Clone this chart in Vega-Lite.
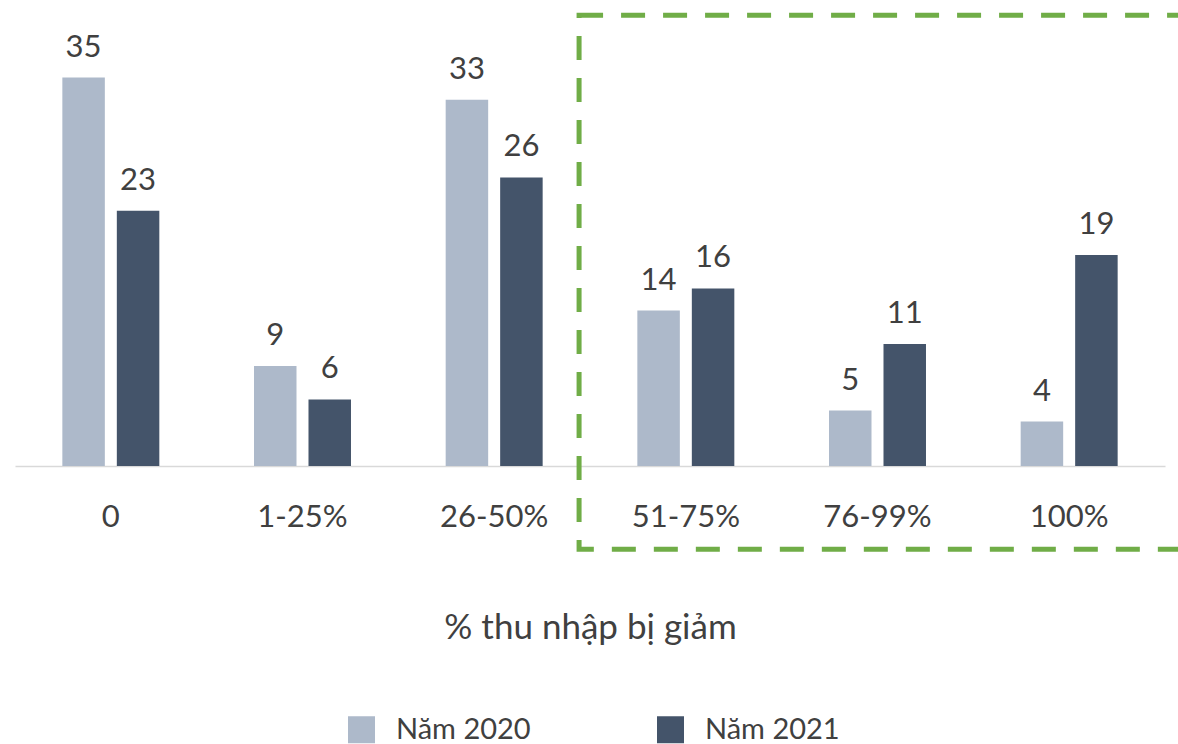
{
  "$schema": "https://vega.github.io/schema/vega-lite/v6.json",
  "width": 1150,
  "height": 444,
  "autosize": {"type": "none"},
  "padding": {"left": 15, "top": 22, "right": 13, "bottom": 278},
  "background": "white",
  "config": {"view": {"stroke": null}, "font": "Lato"},
  "data": {
    "values": [
      {"cat": "0", "year": "Năm 2020", "value": 35},
      {"cat": "0", "year": "Năm 2021", "value": 23},
      {"cat": "1-25%", "year": "Năm 2020", "value": 9},
      {"cat": "1-25%", "year": "Năm 2021", "value": 6},
      {"cat": "26-50%", "year": "Năm 2020", "value": 33},
      {"cat": "26-50%", "year": "Năm 2021", "value": 26},
      {"cat": "51-75%", "year": "Năm 2020", "value": 14},
      {"cat": "51-75%", "year": "Năm 2021", "value": 16},
      {"cat": "76-99%", "year": "Năm 2020", "value": 5},
      {"cat": "76-99%", "year": "Năm 2021", "value": 11},
      {"cat": "100%", "year": "Năm 2020", "value": 4},
      {"cat": "100%", "year": "Năm 2021", "value": 19}
    ]
  },
  "resolve": {"scale": {"x": "independent"}, "axis": {"x": "independent"}},
  "layer": [
    {
      "encoding": {
        "x": {
          "field": "cat",
          "type": "nominal",
          "sort": ["0", "1-25%", "26-50%", "51-75%", "76-99%", "100%"],
          "scale": {"paddingInner": 0.494, "paddingOuter": 0.247},
          "axis": {
            "title": "% thu nhập bị giảm",
            "domainColor": "#D9D9D9",
            "domainWidth": 1.5,
            "ticks": false,
            "grid": false,
            "labelAngle": 0,
            "labelFont": "Lato",
            "labelFontSize": 31,
            "labelColor": "#404040",
            "labelBaseline": "alphabetic",
            "labelPadding": 60,
            "titleFont": "Lato",
            "titleFontSize": 35,
            "titleFontWeight": "normal",
            "titleColor": "#404040",
            "titleBaseline": "alphabetic",
            "titleY": 172
          }
        },
        "xOffset": {"field": "year", "type": "nominal", "scale": {"paddingInner": 0.22, "paddingOuter": 0}},
        "y": {"field": "value", "type": "quantitative", "scale": {"domain": [0, 40], "nice": false}, "axis": null}
      },
      "layer": [
        {
          "mark": {"type": "bar"},
          "encoding": {
            "color": {
              "field": "year",
              "type": "nominal",
              "scale": {"domain": ["Năm 2020", "Năm 2021"], "range": ["#ADB9CA", "#44546A"]},
              "legend": {
                "title": null,
                "orient": "none",
                "legendX": 332,
                "legendY": 693,
                "direction": "horizontal",
                "symbolType": "square",
                "symbolSize": 729,
                "symbolStrokeWidth": 0,
                "symbolOpacity": 1,
                "labelFont": "Lato",
                "labelFontSize": 29,
                "labelColor": "#404040",
                "labelOffset": 20,
                "columnPadding": 125,
                "labelLimit": 400
              }
            }
          }
        },
        {
          "mark": {"type": "text", "dy": -21, "baseline": "alphabetic", "align": "center", "fontSize": 31, "font": "Lato", "color": "#404040"},
          "encoding": {"text": {"field": "value", "type": "quantitative"}}
        }
      ]
    },
    {
      "data": {"values": [{}]},
      "mark": {"type": "rect", "fill": "transparent", "stroke": "#70AD47", "strokeWidth": 5, "strokeDash": [24, 18]},
      "encoding": {
        "x": {"datum": 2.943, "type": "quantitative", "scale": {"domain": [0, 6], "nice": false, "zero": false}, "axis": null},
        "x2": {"datum": 6.3},
        "y": {"datum": 40.6, "type": "quantitative", "scale": {"domain": [0, 40], "nice": false}, "axis": null},
        "y2": {"datum": -7.5}
      }
    }
  ]
}
